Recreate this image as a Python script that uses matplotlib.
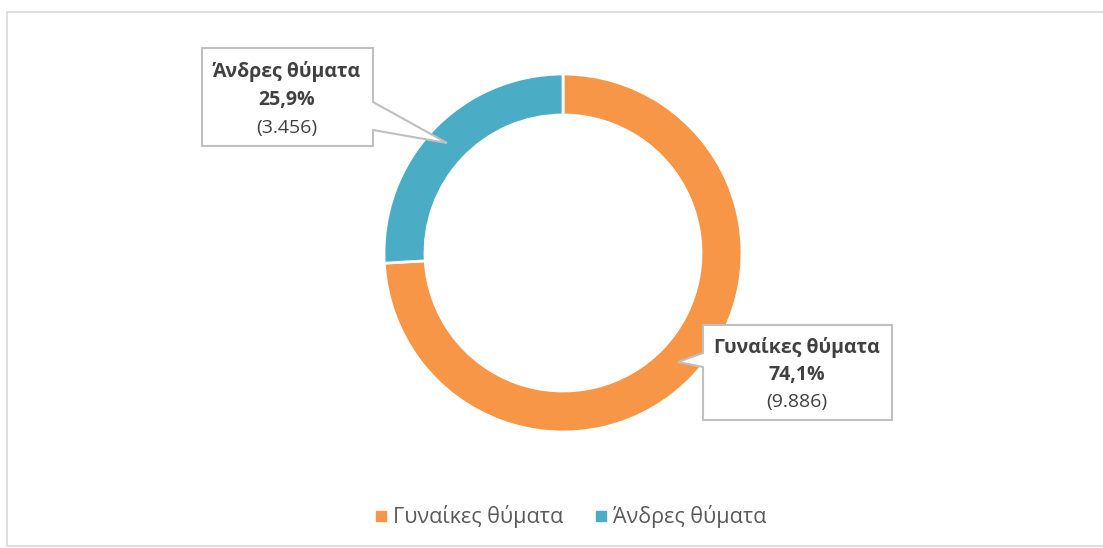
import matplotlib.pyplot as plt
from matplotlib.lines import Line2D
from matplotlib.patches import Polygon, Rectangle

plt.rcParams["font.family"] = ["Open Sans", "DejaVu Sans"]

# data
groups = ["Γυναίκες θύματα", "Άνδρες θύματα"]
victims = [9886, 3456]
colors = ["#F79646", "#4BACC6"]

W, H = 1103, 548
total = sum(victims)


def fy(y):
    # pixel row (from top) -> axis y
    return H - y


def fmt_pct(v):
    return f"{100 * v / total:.1f}%".replace(".", ",")


def fmt_count(v):
    return f"({v:,})".replace(",", ".")


fig = plt.figure(figsize=(W / 100, H / 100), dpi=100)
ax = fig.add_axes([0, 0, 1, 1])

wedges, _ = ax.pie(
    victims,
    colors=colors,
    startangle=90,
    counterclock=False,
    center=(563, fy(253)),
    radius=179,
    wedgeprops=dict(width=41, edgecolor="white", linewidth=2),
)

# callout boxes: outline in pixel coords, text centre and line rows
callouts = [
    {
        "shape": [(703, 325), (892, 325), (892, 420), (703, 420),
                  (703, 367), (678, 362), (703, 353)],
        "cx": 797,
        "rows": [348, 375, 402],
    },
    {
        "shape": [(202, 48), (373, 48), (373, 102), (447, 143),
                  (373, 130), (373, 146), (202, 146)],
        "cx": 287,
        "rows": [72, 100, 128],
    },
]

for name, value, box in zip(groups, victims, callouts):
    ax.add_patch(Polygon(
        [(x, fy(y)) for x, y in box["shape"]],
        closed=True, facecolor="white", edgecolor="#BFBFBF",
        linewidth=1.5, zorder=3,
    ))
    lines = [(name, "bold"), (fmt_pct(value), "bold"), (fmt_count(value), "normal")]
    for (txt, weight), row in zip(lines, box["rows"]):
        ax.text(box["cx"], fy(row), txt, ha="center", va="center",
                fontsize=14, fontweight=weight, color="#404040", zorder=4)

handles = [
    Line2D([], [], linestyle="none", marker="s", markersize=7.5,
           markerfacecolor=c, markeredgecolor=c)
    for c in colors
]
ax.legend(handles, groups, loc="center", bbox_to_anchor=(571 / W, 1 - 517 / H),
          ncol=2, frameon=False, fontsize=15.5, labelcolor="#595959",
          handlelength=0.5, handletextpad=0.3, columnspacing=1.5)

ax.add_patch(Rectangle((7, fy(546)), W, 546 - 12, facecolor="none",
                       edgecolor="#D9D9D9", linewidth=1.2, zorder=0))

ax.set_xlim(0, W)
ax.set_ylim(0, H)
ax.set_aspect("equal")
ax.axis("off")

fig.savefig("out.png", dpi=100)
